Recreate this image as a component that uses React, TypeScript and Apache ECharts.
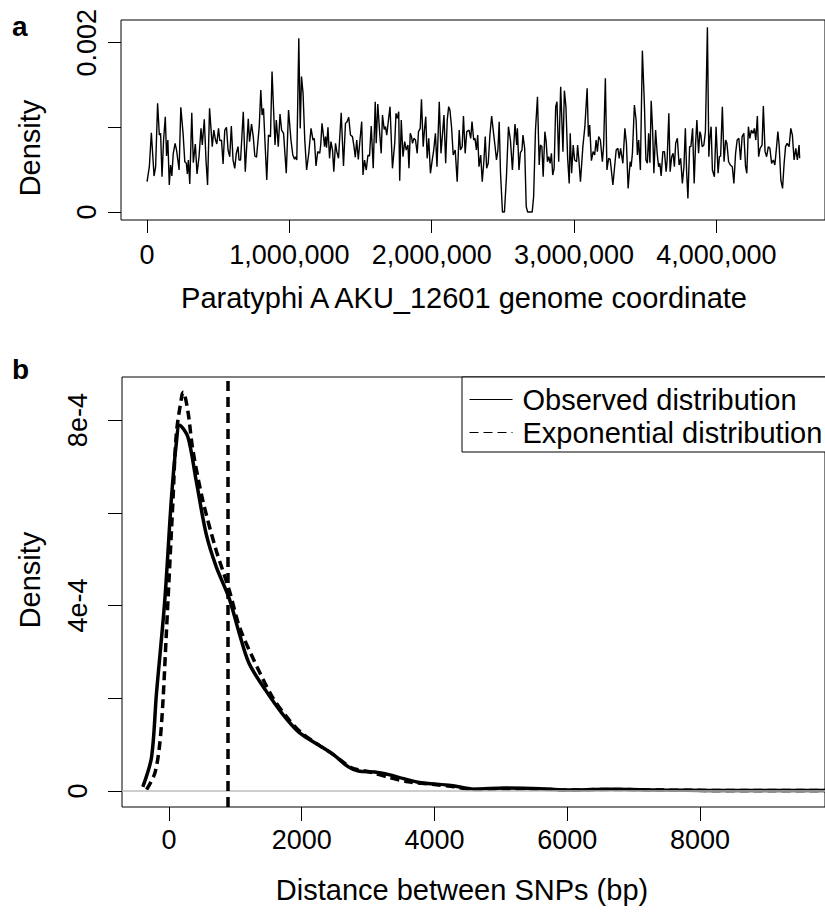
import React, { useEffect, useRef } from "react";
import * as echarts from "echarts";

const FONT = '"Liberation Sans", Arial, Helvetica, sans-serif';

// Panel a: SNP density along the genome, [window position (kb), density (x1e-4)]
const densityWindowsA: [number, number][] = [
  [0, 3.58], [16, 5.35], [30, 9.37], [49, 4.25], [60, 5.35], [74, 12.83], [86, 9.09], [95, 9.29],
  [105, 4.17], [116, 8.5], [128, 11.26], [137, 6.61], [146, 8.5], [156, 3.19], [165, 5.55], [174, 4.25],
  [184, 6.93], [197, 8.11], [207, 7.32], [225, 4.96], [237, 12.36], [253, 9.29], [265, 5.94], [276, 5.75],
  [283, 4.49], [290, 6.14], [300, 3.31], [314, 11.73], [325, 5.83], [339, 8.03], [351, 4.49], [365, 6.53],
  [379, 9.88], [388, 7.91], [402, 10.95], [414, 6.14], [425, 3.19], [439, 12.24], [458, 7.72], [469, 9.68],
  [481, 8.5], [490, 8.03], [502, 9.88], [511, 8.42], [523, 8.5], [534, 5.67], [546, 9.68], [558, 10.0],
  [569, 7.32], [581, 6.53], [592, 10.16], [604, 6.14], [616, 5.16], [627, 6.93], [639, 7.72], [646, 6.14],
  [657, 6.14], [676, 11.85], [690, 4.76], [711, 11.02], [720, 8.31], [734, 10.39], [746, 8.9], [757, 6.61],
  [769, 6.46], [788, 10.08], [799, 14.41], [808, 11.46], [818, 12.24], [829, 8.11], [841, 3.78], [853, 9.09],
  [867, 8.9], [878, 16.58], [887, 12.84], [899, 7.91], [908, 10.87], [915, 9.29], [922, 7.72], [934, 11.58],
  [945, 9.68], [959, 9.29], [978, 4.57], [994, 12.05], [1011, 8.5], [1024, 6.73], [1036, 6.22], [1043, 6.53],
  [1052, 6.14], [1066, 20.51], [1076, 9.88], [1085, 15.99], [1096, 14.02], [1108, 8.5], [1121, 4.96],
  [1136, 6.93], [1152, 9.88], [1166, 8.5], [1175, 8.7], [1187, 5.43], [1199, 7.13], [1213, 6.93], [1220, 7.91],
  [1229, 10.47], [1240, 8.9], [1247, 7.72], [1254, 8.9], [1261, 7.6], [1271, 10.0], [1282, 6.34], [1292, 8.31],
  [1303, 7.32], [1312, 4.76], [1324, 8.11], [1333, 7.13], [1345, 6.34], [1364, 11.73], [1380, 5.43], [1394, 10.47],
  [1405, 10.67], [1417, 11.18], [1429, 9.09], [1443, 8.9], [1454, 7.72], [1463, 6.46], [1473, 8.5], [1484, 6.22],
  [1496, 8.5], [1508, 10.67], [1517, 4.37], [1528, 6.14], [1540, 4.96], [1552, 6.73], [1563, 6.61], [1575, 10.16],
  [1589, 5.16], [1603, 13.03], [1610, 8.11], [1621, 12.76], [1633, 9.68], [1645, 6.93], [1654, 11.46], [1666, 9.76],
  [1675, 10.08], [1684, 9.09], [1696, 10.87], [1707, 12.44], [1724, 5.16], [1740, 8.11], [1749, 11.65], [1758, 11.06],
  [1768, 11.85], [1775, 3.7], [1786, 10.87], [1798, 6.53], [1810, 8.31], [1821, 7.32], [1833, 7.91], [1840, 5.16],
  [1849, 9.29], [1858, 8.9], [1865, 8.11], [1875, 8.7], [1886, 8.5], [1898, 6.93], [1907, 9.49], [1919, 9.88],
  [1928, 13.31], [1940, 7.72], [1949, 9.68], [1958, 11.26], [1968, 6.34], [1979, 8.7], [1991, 4.57], [2002, 5.94],
  [2014, 7.32], [2026, 9.29], [2037, 5.35], [2053, 13.03], [2065, 6.93], [2077, 9.49], [2086, 11.46], [2098, 5.75],
  [2109, 10.87], [2119, 12.44], [2128, 12.05], [2139, 10.08], [2151, 6.73], [2165, 7.32], [2179, 3.58], [2193, 9.68],
  [2202, 7.32], [2214, 7.72], [2223, 11.34], [2235, 6.93], [2246, 9.49],
  [2262, 9.68], [2274, 8.7], [2283, 10.67], [2295, 8.5], [2304, 8.7], [2314, 7.32], [2323, 9.09], [2332, 5.35],
  [2344, 6.73], [2355, 3.58], [2367, 6.14], [2376, 8.9], [2386, 5.16], [2397, 5.75], [2409, 9.09], [2421, 11.34],
  [2432, 9.68], [2444, 7.91], [2455, 6.14], [2465, 7.32], [2474, 10.67], [2483, 4.76], [2497, 0], [2511, 0],
  [2525, 4.17], [2539, 10.08], [2553, 8.5], [2567, 4.96], [2576, 7.72], [2585, 10.39], [2597, 7.91], [2602, 9.88],
  [2613, 4.96], [2623, 7.01], [2634, 7.32], [2641, 9.09], [2653, 7.52], [2664, 0.63], [2674, 0], [2706, 0],
  [2716, 1.81], [2729, 9.68], [2743, 13.62], [2755, 5.55], [2764, 7.91], [2774, 7.72], [2783, 4.17], [2795, 9.49],
  [2804, 8.31], [2813, 5.94], [2822, 6.53], [2832, 5.75], [2841, 6.93], [2850, 4.37], [2860, 5.16], [2871, 12.44],
  [2880, 13.03], [2892, 5.94], [2906, 14.8], [2922, 7.13], [2932, 14.33], [2943, 12.44], [2955, 6.34], [2966, 3.38],
  [2973, 9.29], [2983, 4.57], [2994, 7.91], [3004, 6.14], [3018, 5.94], [3025, 7.91], [3034, 6.14], [3045, 3.58],
  [3062, 7.72], [3076, 10.08], [3092, 14.61], [3101, 8.9], [3110, 10.28], [3122, 6.06], [3134, 7.13], [3145, 6.73],
  [3155, 8.5], [3164, 7.13], [3173, 8.9], [3185, 8.5], [3199, 5.94], [3208, 7.91], [3220, 15.79], [3231, 4.96],
  [3243, 6.34], [3254, 6.22], [3273, 3.19], [3285, 5.35], [3296, 7.32], [3308, 7.52], [3317, 6.34], [3327, 7.52],
  [3343, 5.75], [3357, 9.88], [3368, 8.11], [3380, 2.79], [3394, 5.94],
  [3401, 5.35], [3410, 6.93], [3424, 12.64], [3436, 10.87], [3445, 6.73], [3454, 8.5], [3466, 4.96], [3480, 19.06],
  [3494, 12.84], [3505, 6.14], [3515, 5.75], [3524, 9.29], [3533, 5.83], [3542, 13.15], [3552, 9.68], [3561, 4.57],
  [3573, 9.68], [3584, 6.93], [3594, 5.35], [3603, 5.75], [3612, 4.25], [3624, 7.13], [3635, 7.13], [3647, 4.76],
  [3654, 6.14], [3666, 11.65], [3675, 4.76], [3686, 6.53], [3696, 6.93], [3705, 5.35], [3714, 8.11], [3726, 8.7],
  [3738, 5.55], [3749, 6.34], [3761, 3.38], [3772, 5.35], [3782, 9.88], [3791, 4.76], [3800, 1.61], [3812, 7.72],
  [3821, 7.72], [3833, 9.88], [3844, 3.38], [3854, 8.11], [3863, 10.87], [3875, 6.93], [3884, 9.49], [3891, 9.09],
  [3900, 7.72], [3912, 7.91], [3923, 9.49], [3937, 21.81], [3947, 6.53], [3954, 8.7], [3963, 10.08], [3972, 4.96],
  [3986, 4.17], [3998, 10.08], [4012, 4.57], [4021, 6.53], [4030, 6.61], [4042, 12.44], [4054, 5.94], [4065, 8.5],
  [4074, 8.11], [4086, 5.94], [4098, 5.55], [4112, 5.35], [4123, 3.38], [4135, 6.93], [4146, 8.5], [4158, 8.7],
  [4170, 6.14], [4181, 8.9], [4193, 9.29], [4205, 5.35], [4214, 4.57], [4225, 10.08], [4235, 8.7], [4246, 9.68],
  [4258, 9.29], [4267, 9.88], [4277, 8.5], [4288, 11.34], [4297, 6.53], [4307, 7.52], [4321, 7.91], [4330, 12.52],
  [4342, 7.13], [4353, 6.53], [4365, 7.72], [4376, 7.52], [4388, 5.75], [4400, 6.14], [4411, 5.55], [4423, 7.72],
  [4432, 9.49], [4441, 7.91], [4453, 3.78], [4465, 2.79], [4476, 5.75], [4486, 7.72], [4497, 8.11], [4511, 7.72],
  [4523, 9.88], [4534, 9.09], [4546, 6.14], [4558, 7.52], [4569, 6.14], [4581, 7.91], [4585, 6.34],
];
const ticksAX = [0, 1000000, 2000000, 3000000, 4000000];
const ticksAY = [0, 0.001, 0.002];
const labelsAY = [0, 0.002];

// Panel b: density of distances between SNPs, [distance (bp), density (x1e-4)]
const observedB: [number, number][] = [
  [-394, 0.09], [-263, 0.73], [-189, 2.1], [-64, 4.1], [36, 6.3], [110, 7.5], [160, 7.89], [284, 7.64],
  [409, 6.7], [559, 5.55], [708, 4.85], [908, 4.15], [1059, 3.4], [1207, 2.75], [1457, 2.17], [1706, 1.67],
  [1955, 1.27], [2254, 0.99], [2454, 0.81], [2703, 0.52], [2853, 0.43], [3102, 0.41], [3351, 0.34], [3449, 0.3],
  [3750, 0.19], [4250, 0.12], [4598, 0.04], [5047, 0.065], [5595, 0.05], [5945, 0.02], [6643, 0.037], [7441, 0.02],
  [8837, 0.01], [9900, 0.01],
];
const exponentialB: [number, number][] = [
  [-338, 0.03], [-214, 0.38], [-139, 1.02], [-90, 1.96], [-40, 3.4], [-15, 4.12], [60, 6.27], [110, 7.7],
  [195, 8.54], [215, 8.6], [284, 8.2], [359, 7.36], [509, 6.27], [709, 5.2], [908, 4.33], [1059, 3.55],
  [1257, 2.89], [1556, 2.03], [1800, 1.55], [2000, 1.25], [2250, 1.0], [2500, 0.76], [2750, 0.5], [3000, 0.42],
  [3300, 0.3], [3600, 0.2], [4000, 0.14], [4300, 0.09], [4600, 0.03], [5000, 0.05], [5600, 0.04], [6000, 0.02],
  [6600, 0.035], [7400, 0.02], [8800, 0.01], [9900, 0.01],
];
const meanDistanceBp = 890;
const ticksBX = [0, 2000, 4000, 6000, 8000];
const ticksBY = [0, 0.0002, 0.0004, 0.0006, 0.0008];
const labelsBY = [0, 0.0004, 0.0008];
const legendNames = ["Observed distribution", "Exponential distribution"];

const fmtAY = (v: number) => (v === 0 ? "0" : Number(v).toFixed(3));
const fmtBY = (v: number) => (v === 0 ? "0" : `${Math.round(v * 1e4)}e-4`);

export default function App() {
  const ref = useRef<HTMLDivElement>(null);

  useEffect(() => {
    if (!ref.current) return;
    const chart = echarts.init(ref.current, null, { renderer: "svg" });

    const tickStyle = { color: "#000", width: 1 };
    const labelBase = { color: "#000", fontFamily: FONT, fontSize: 27 };

    const baseGraphics: any[] = [
      { type: "text", left: 12, top: 12, style: { text: "a", font: `bold 28px ${FONT}`, fill: "#000" } },
      { type: "text", left: 12, top: 355, style: { text: "b", font: `bold 28px ${FONT}`, fill: "#000" } },
      { type: "text", x: 30, y: 148, rotation: Math.PI / 2, style: { text: "Density", font: `29px ${FONT}`, fill: "#000", textAlign: "center", textVerticalAlign: "middle" } },
      { type: "text", x: 30, y: 580, rotation: Math.PI / 2, style: { text: "Density", font: `29px ${FONT}`, fill: "#000", textAlign: "center", textVerticalAlign: "middle" } },
      { type: "text", x: 464, y: 298, style: { text: "Paratyphi A AKU_12601 genome coordinate", font: `29px ${FONT}`, fill: "#000", textAlign: "center", textVerticalAlign: "middle" } },
      { type: "text", x: 462, y: 890, style: { text: "Distance between SNPs (bp)", font: `29px ${FONT}`, fill: "#000", textAlign: "center", textVerticalAlign: "middle" } },
    ];

    const option: any = {
      animation: false,
      backgroundColor: "#fff",
      textStyle: { fontFamily: FONT },
      grid: [
        { left: 121, top: 20, width: 709, height: 200, show: true, borderColor: "#000", borderWidth: 1, backgroundColor: "transparent" },
        { left: 122, top: 377, width: 708, height: 430, show: true, borderColor: "#000", borderWidth: 1, backgroundColor: "transparent" },
      ],
      xAxis: [
        {
          type: "value", gridIndex: 0, min: -183200, max: 4763200,
          splitLine: { show: false },
          axisLine: { show: false, onZero: false },
          axisTick: { show: true, inside: false, length: 13, lineStyle: tickStyle, customValues: ticksAX },
          axisLabel: { ...labelBase, margin: 21, customValues: ticksAX, formatter: (v: number) => Number(v).toLocaleString("en-US") },
        },
        {
          type: "value", gridIndex: 1, min: -708, max: 9883,
          splitLine: { show: false },
          axisLine: { show: false, onZero: false },
          axisTick: { show: true, inside: false, length: 14, lineStyle: tickStyle, customValues: ticksBX },
          axisLabel: { ...labelBase, margin: 19, customValues: ticksBX, formatter: (v: number) => String(Math.round(v)) },
        },
      ],
      yAxis: [
        {
          type: "value", gridIndex: 0, min: -0.0000945, max: 0.002268,
          splitLine: { show: false },
          axisLine: { show: false, onZero: false },
          axisTick: { show: true, inside: false, length: 13, lineStyle: tickStyle, customValues: ticksAY },
          axisLabel: { show: false },
        },
        {
          type: "value", gridIndex: 1, min: -0.0000345, max: 0.000893,
          splitLine: { show: false },
          axisLine: { show: false, onZero: false },
          axisTick: { show: true, inside: false, length: 14, lineStyle: tickStyle, customValues: ticksBY },
          axisLabel: { show: false },
        },
      ],
      legend: {
        show: true,
        data: legendNames,
        orient: "vertical",
        left: 462,
        top: 377,
        itemWidth: 43,
        itemHeight: 2,
        itemGap: 4,
        padding: [8, 8, 5, 7],
        borderColor: "#000",
        borderWidth: 1,
        backgroundColor: "#fff",
        selectedMode: false,
        itemStyle: { opacity: 0, borderWidth: 0 },
        lineStyle: { width: 1 },
        textStyle: { color: "#000", fontFamily: FONT, fontSize: 29, padding: [0, 0, 0, 5] },
      },
      graphic: baseGraphics,
      series: [
        {
          name: "SNP density",
          type: "line",
          xAxisIndex: 0,
          yAxisIndex: 0,
          symbol: "none",
          silent: true,
          lineStyle: { color: "#000", width: 1.4 },
          data: densityWindowsA.map(([kb, d]) => [kb * 1000, d * 1e-4]),
        },
        {
          name: legendNames[0],
          type: "line",
          xAxisIndex: 1,
          yAxisIndex: 1,
          symbol: "none",
          silent: true,
          smooth: 0.3,
          color: "#000",
          lineStyle: { color: "#000", width: 3.5, type: "solid" },
          data: observedB.map(([x, d]) => [x, d * 1e-4]),
          markLine: {
            silent: true,
            symbol: "none",
            label: { show: false },
            data: [
              { yAxis: 0, lineStyle: { color: "#bebebe", width: 1.5, type: "solid" } },
              { xAxis: meanDistanceBp, lineStyle: { color: "#000", width: 3.5, type: [10, 6] } },
            ],
          },
        },
        {
          name: legendNames[1],
          type: "line",
          xAxisIndex: 1,
          yAxisIndex: 1,
          symbol: "none",
          silent: true,
          smooth: 0.3,
          color: "#000",
          lineStyle: { color: "#000", width: 3.5, type: [9, 5] },
          data: exponentialB.map(([x, d]) => [x, d * 1e-4]),
        },
      ],
    };

    chart.setOption(option);

    // y tick labels (rotated, as in R's default las=0), placed through the axis scales
    const rotatedLabel = (text: string, x: number, y: number) => ({
      type: "text", x, y, rotation: Math.PI / 2,
      style: { text, font: `27px ${FONT}`, fill: "#000", textAlign: "center", textVerticalAlign: "middle" },
    });
    const yLabels: any[] = [
      ...labelsAY.map((v) => rotatedLabel(fmtAY(v), 86.5, chart.convertToPixel({ yAxisIndex: 0 }, v) as number)),
      ...labelsBY.map((v) => rotatedLabel(fmtBY(v), 78, chart.convertToPixel({ yAxisIndex: 1 }, v) as number)),
    ];
    chart.setOption({ graphic: [...baseGraphics, ...yLabels] });

    return () => chart.dispose();
  }, []);

  return (
    <div
      ref={ref}
      style={{ position: "fixed", left: 0, top: 0, width: 825, height: 913, background: "#fff" }}
    />
  );
}
